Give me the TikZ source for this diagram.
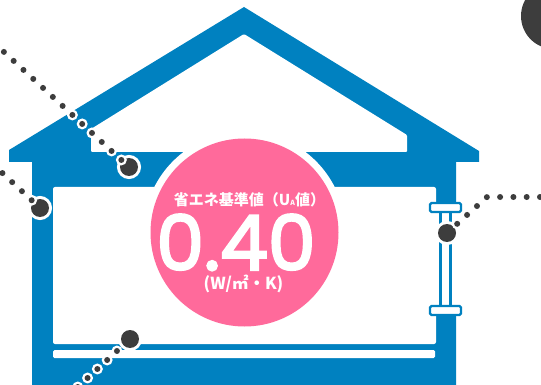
\documentclass[tikz,border=0pt]{standalone}
\usepackage{fontspec}
\newfontfamily\jpfont{Noto Sans CJK JP}
\newfontfamily\numfont{Poppins}[FakeBold=3]
\definecolor{houseblue}{HTML}{0081C0}
\definecolor{badgepink}{HTML}{FF6A9B}
\definecolor{dotgray}{HTML}{3D3D3D}

\begin{document}
\begin{tikzpicture}[x=1pt, y=-1pt,
    dotline/.style={draw=dotgray, line width=6pt, line cap=round, dash pattern=on 0pt off 13.3pt,
        preaction={draw=white, line width=11pt, line cap=round, dash pattern=on 0pt off 13.3pt}},
    pin/.style={circle, fill=dotgray, inner sep=0pt, minimum size=18pt,
        preaction={draw=white, line width=6pt}},
    badgetext/.style={text=white, inner sep=0pt}]
    \clip (0,0) rectangle (541,385);

    % house
    \fill[houseblue] (9,162) -- (9,150) -- (244,7) -- (479,151) -- (479,162) -- (456,162)
        -- (456,385) -- (32,385) -- (32,162) -- cycle;
    \fill[white, rounded corners=1pt] (91,152) -- (91,129) -- (244,34) -- (407,135) -- (407,152) -- cycle;
    \fill[white, rounded corners=2pt] (53,187) rectangle (436,344);
    \fill[white, rounded corners=1.5pt] (53,350) rectangle (435,358);

    % window
    \fill[white] (435.5,212) rectangle (456.5,306);
    \fill[houseblue] (439.3,212) rectangle (441.7,306);
    \fill[houseblue] (449.3,212) rectangle (451.7,306);
    \draw[houseblue, line width=2.2pt, fill=white, rounded corners=1.5pt] (430,203) rectangle (461,212);
    \draw[houseblue, line width=2.2pt, fill=white, rounded corners=1.5pt] (430,306) rectangle (461,315);

    % badge
    \node[circle, fill=badgepink, minimum size=188pt, inner sep=0pt,
        preaction={draw=white, line width=14pt}] (badge) at (244.5,232.5) {};
    \node[badgetext, font=\jpfont\bfseries\fontsize{15}{15}\selectfont] (title) at (249.5,200)
        {省エネ基準値（U{\fontsize{7}{7}\selectfont A}値）};
    \node[badgetext, font=\numfont\fontsize{76}{76}\selectfont, anchor=base, text depth=0pt] (value) at (236,270) {0.40};
    \node[badgetext, font=\jpfont\bfseries\fontsize{16.5}{16.5}\selectfont] (unit) at (243.5,283.5) {(W/㎡・K)};

    % pins
    \node[pin] (pinA) at (129,167) {};
    \node[pin] (pinB) at (40,208) {};
    \node[pin] (pinC) at (130,339) {};
    \node[pin] (pinD) at (447,233) {};
    \node[circle, fill=dotgray, minimum size=66pt, inner sep=0pt] (blob) at (554,16) {};

    \coordinate (endA) at (-5.9,42.9);
    \coordinate (endB) at (-7.3,164);
    \coordinate (endC) at (68,396);
    \coordinate (endD) at (553.3,197);
    \coordinate (bendD) at (487,197);

    \draw[dotline] (endA) -- (pinA);
    \draw[dotline] (endB) -- (pinB);
    \draw[dotline] (endC) -- (pinC);
    \draw[dotline] (endD) -- (bendD) -- (pinD);
\end{tikzpicture}
\end{document}
